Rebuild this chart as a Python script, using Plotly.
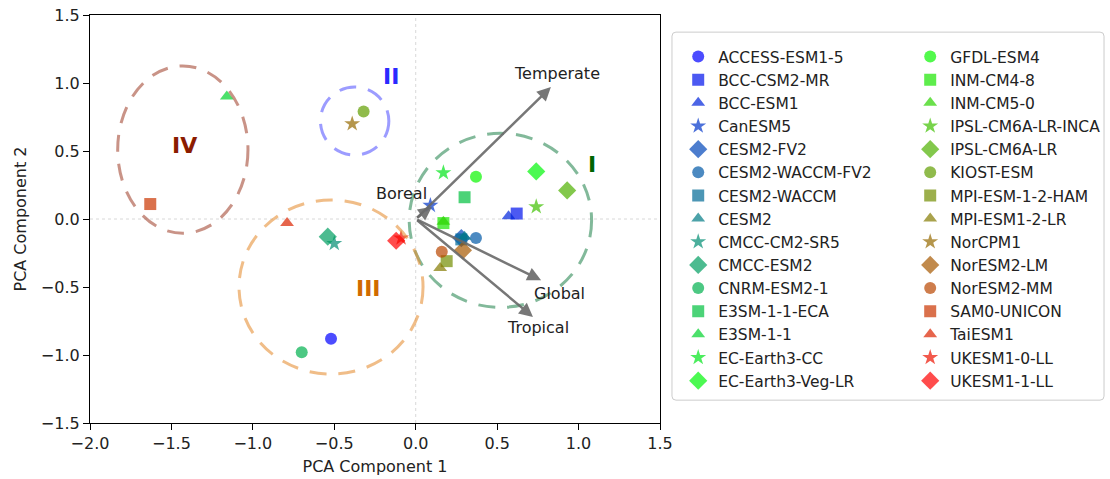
import plotly.graph_objects as go

models = [
    "ACCESS-ESM1-5", "BCC-CSM2-MR", "BCC-ESM1", "CanESM5", "CESM2-FV2",
    "CESM2-WACCM-FV2", "CESM2-WACCM", "CESM2", "CMCC-CM2-SR5", "CMCC-ESM2",
    "CNRM-ESM2-1", "E3SM-1-1-ECA", "E3SM-1-1", "EC-Earth3-CC", "EC-Earth3-Veg-LR",
    "GFDL-ESM4", "INM-CM4-8", "INM-CM5-0", "IPSL-CM6A-LR-INCA", "IPSL-CM6A-LR",
    "KIOST-ESM", "MPI-ESM-1-2-HAM", "MPI-ESM1-2-LR", "NorCPM1", "NorESM2-LM",
    "NorESM2-MM", "SAM0-UNICON", "TaiESM1", "UKESM1-0-LL", "UKESM1-1-LL",
]
pc1 = [-0.52, 0.62, 0.57, 0.09, 0.28,
       0.37, 0.28, 0.30, -0.50, -0.54,
       -0.70, 0.30, -1.16, 0.17, 0.74,
       0.37, 0.17, 0.17, 0.74, 0.93,
       -0.32, 0.19, 0.15, -0.39, 0.29,
       0.16, -1.63, -0.79, -0.09, -0.12]
pc2 = [-0.88, 0.04, 0.02, 0.10, -0.14,
       -0.14, -0.15, -0.13, -0.18, -0.13,
       -0.98, 0.16, 0.90, 0.34, 0.35,
       0.31, -0.03, -0.02, 0.09, 0.21,
       0.79, -0.31, -0.36, 0.70, -0.23,
       -0.24, 0.11, -0.03, -0.14, -0.16]

# loading vectors (arrows)
vec_names = ["Temperate", "Global", "Tropical", "Boreal"]
vec_x = [0.83, 0.77, 0.72, 0.10]
vec_y = [0.97, -0.45, -0.72, 0.09]
vec_label_x = [0.87, 0.88, 0.75, -0.09]
vec_label_y = [1.07, -0.55, -0.80, 0.19]

# clusters
cl_names = ["I", "II", "III", "IV"]
cl_cx = [0.52, -0.375, -0.52, -1.43]
cl_cy = [-0.01, 0.72, -0.50, 0.51]
cl_rx = [0.56, 0.21, 0.565, 0.40]
cl_ry = [0.64, 0.25, 0.64, 0.615]
cl_label_x = [1.08, -0.15, -0.29, -1.42]
cl_label_y = [0.40, 1.05, -0.51, 0.54]
cl_line_colors = ["rgba(46,139,87,0.6)", "rgba(90,90,255,0.6)",
                  "rgba(230,145,56,0.6)", "rgba(165,75,55,0.6)"]
cl_text_colors = ["#006400", "#2a2aff", "#d06a00", "#8b1c00"]

symbols = ["circle", "square", "triangle-up", "star", "diamond"]
sizes = {"circle": 12, "square": 12, "triangle-up": 12, "star": 12, "diamond": 14}


def cmap(t):
    # blue -> lime -> red
    if t <= 0.5:
        f = t / 0.5
        r, g, b = 0, 255 * f, 255 * (1 - f)
    else:
        f = (t - 0.5) / 0.5
        r, g, b = 255 * f, 255 * (1 - f), 0
    return "rgb(%d,%d,%d)" % (round(r), round(g), round(b))


fig = go.Figure()
n = len(models)
for i, name in enumerate(models):
    sym = symbols[i % 5]
    fig.add_trace(go.Scatter(
        x=[pc1[i]], y=[pc2[i]], mode="markers", name=name,
        marker=dict(symbol=sym, size=sizes[sym], color=cmap(i / (n - 1)),
                    opacity=0.7, line=dict(width=0)),
        legend="legend" if i < 15 else "legend2",
    ))

shapes = []
# dotted zero lines
shapes.append(dict(type="line", xref="x", yref="y domain", x0=0, x1=0, y0=0, y1=1,
                   line=dict(color="#d8d8d8", width=1, dash="dot"), layer="below"))
shapes.append(dict(type="line", xref="x domain", yref="y", x0=0, x1=1, y0=0, y1=0,
                   line=dict(color="#d8d8d8", width=1, dash="dot"), layer="below"))
for i in range(len(cl_names)):
    shapes.append(dict(type="circle", xref="x", yref="y",
                       x0=cl_cx[i] - cl_rx[i], x1=cl_cx[i] + cl_rx[i],
                       y0=cl_cy[i] - cl_ry[i], y1=cl_cy[i] + cl_ry[i],
                       line=dict(color=cl_line_colors[i], width=3, dash="17px,12px")))

# legend frame with rounded corners (paper coords)
lx0, lx1, ly0, ly1 = 1.021, 1.779, 0.056, 0.958
rx, ry = 0.007, 0.0098
frame_path = (
    f"M {lx0+rx},{ly1} L {lx1-rx},{ly1} Q {lx1},{ly1} {lx1},{ly1-ry} "
    f"L {lx1},{ly0+ry} Q {lx1},{ly0} {lx1-rx},{ly0} "
    f"L {lx0+rx},{ly0} Q {lx0},{ly0} {lx0},{ly0+ry} "
    f"L {lx0},{ly1-ry} Q {lx0},{ly1} {lx0+rx},{ly1} Z"
)
shapes.append(dict(type="path", xref="paper", yref="paper", path=frame_path,
                   line=dict(color="#cccccc", width=1), fillcolor="rgba(255,255,255,0.8)",
                   layer="below"))

annotations = []
for i in range(len(vec_names)):
    annotations.append(dict(x=vec_x[i], y=vec_y[i], ax=0, ay=0, xref="x", yref="y",
                            axref="x", ayref="y", text="", showarrow=True,
                            arrowhead=2, arrowsize=1.1, arrowwidth=2.5,
                            arrowcolor="rgba(105,105,105,0.9)"))
    annotations.append(dict(x=vec_label_x[i], y=vec_label_y[i], xref="x", yref="y",
                            text=vec_names[i], showarrow=False,
                            font=dict(size=16, color="#222222", family="DejaVu Sans")))
for i in range(len(cl_names)):
    annotations.append(dict(x=cl_label_x[i], y=cl_label_y[i], xref="x", yref="y",
                            text="<b>%s</b>" % cl_names[i], showarrow=False,
                            font=dict(size=22, color=cl_text_colors[i], family="DejaVu Sans")))

axis_common = dict(showline=True, linecolor="black", linewidth=1.2, mirror=True,
                   ticks="outside", ticklen=6, tickcolor="black", showgrid=False,
                   zeroline=False, tickfont=dict(size=16, color="#222222"),
                   title_font=dict(size=16, color="#222222"), automargin=False)

leg_common = dict(xanchor="left", yanchor="top", xref="container", yref="container",
                  bgcolor="rgba(0,0,0,0)", borderwidth=0, maxheight=470,
                  font=dict(size=15.5, color="#222222"), itemwidth=30)

fig.update_layout(
    width=1110, height=479,
    margin=dict(l=90, r=450, t=15, b=56, autoexpand=False),
    plot_bgcolor="white", paper_bgcolor="white",
    font=dict(family="DejaVu Sans", color="#222222"),
    xaxis=dict(range=[-2.0, 1.5], tickvals=[-2.0, -1.5, -1.0, -0.5, 0.0, 0.5, 1.0, 1.5],
               tickformat=".1f", title=dict(text="PCA Component 1", standoff=8), **axis_common),
    yaxis=dict(range=[-1.5, 1.5], tickvals=[-1.5, -1.0, -0.5, 0.0, 0.5, 1.0, 1.5],
               tickformat=".1f", title=dict(text="PCA Component 2", standoff=10), **axis_common),
    shapes=shapes, annotations=annotations,
    legend=dict(x=0.611, y=0.9165, **leg_common),
    legend2=dict(x=0.820, y=0.9165, **leg_common),
)

fig.write_html("out.html", config={"displayModeBar": False},
               post_script="document.body.style.margin='0';")
